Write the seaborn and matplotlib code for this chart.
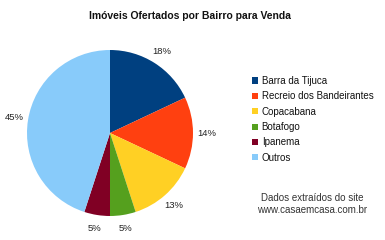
import matplotlib
matplotlib.use("Agg")
import matplotlib.pyplot as plt
import seaborn as sns

sns.set_style("white")
plt.rcParams['font.family'] = ['Liberation Sans', 'DejaVu Sans']

title = "Imóveis Ofertados por Bairro para Venda"
categories = ["Barra da Tijuca", "Recreio dos Bandeirantes", "Copacabana",
              "Botafogo", "Ipanema", "Outros"]
values = [18, 14, 13, 5, 5, 45]
colors = ["#004080", "#ff4010", "#ffd024", "#55a01e", "#800024", "#88cbfa"]
note = "Dados extraídos do site\nwww.casaemcasa.com.br"

fig = plt.figure(figsize=(3.85, 2.4), dpi=100)
ax = fig.add_axes([(110 - 83) / 385, (240 - 133 - 83) / 240, 166 / 385, 166 / 240])
wedges, texts, autotexts = ax.pie(
    values, colors=sns.color_palette(colors), startangle=90, counterclock=False,
    autopct=lambda p: f"{p:.0f}%", pctdistance=1.17, radius=1,
    wedgeprops=dict(linewidth=0), textprops=dict(fontsize=6.8, color="#222222"))
ax.set_xlim(-1, 1)
ax.set_ylim(-1, 1)
ax.set_aspect("equal")
ax.axis("off")

fig.text(190 / 385, 1 - 16 / 240, title, ha="center", va="center",
         fontsize=7.5, fontweight="bold", color="#111111")

leg = fig.legend(wedges, categories, loc="upper left",
                 bbox_to_anchor=(252 / 385, 1 - 76 / 240), frameon=False,
                 fontsize=7.0, handlelength=0.6, handleheight=0.6,
                 handletextpad=0.4, labelspacing=0.55, borderaxespad=0,
                 borderpad=0)
for t in leg.get_texts():
    t.set_color("#111111")

fig.text(312 / 385, 1 - 204 / 240, note, ha="center", va="center",
         fontsize=7.0, color="#333333", linespacing=1.2)

fig.savefig("out.png", dpi=100)
